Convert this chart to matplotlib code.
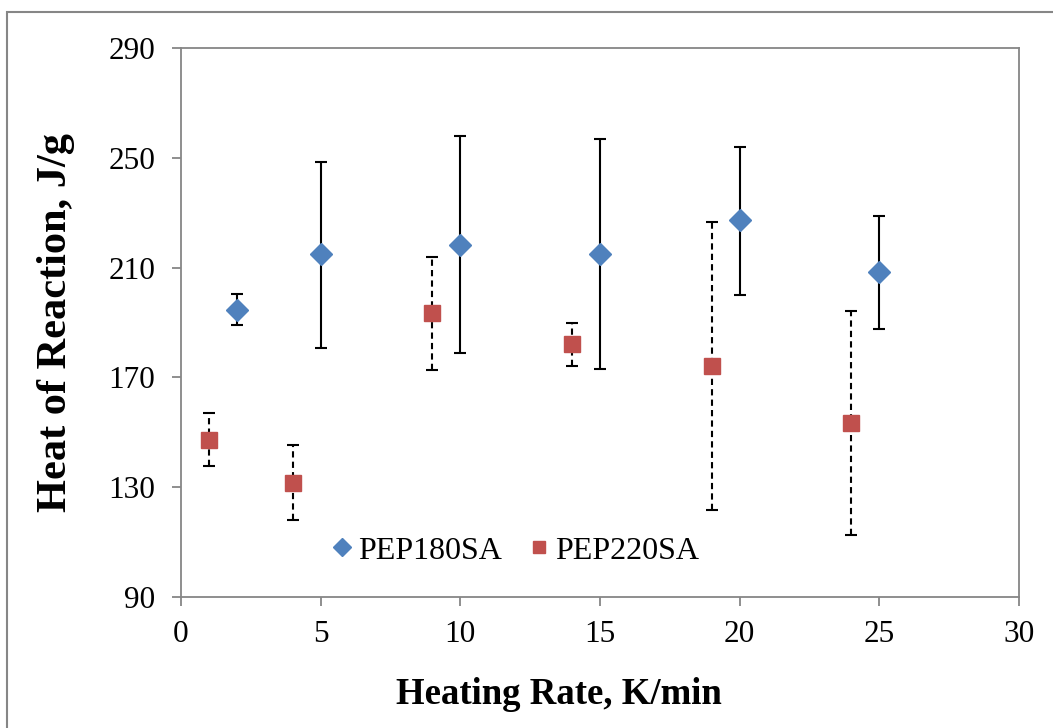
import numpy as np
import matplotlib.pyplot as plt
from matplotlib.patches import Rectangle

plt.rcParams['font.family'] = ['Liberation Serif', 'DejaVu Serif']

# PEP180SA
rate_180 = [2, 5, 10, 15, 20, 25]
heat_180 = [194.6, 215.0, 218.2, 215.0, 227.3, 208.4]
high_180 = [200.4, 248.5, 257.9, 256.8, 253.9, 228.8]
low_180 = [189.1, 180.7, 178.9, 173.1, 200.0, 187.6]

# PEP220SA
rate_220 = [1, 4, 9, 14, 19, 24]
heat_220 = [147.2, 131.5, 193.5, 182.2, 174.2, 153.4]
high_220 = [157.0, 145.4, 213.9, 189.8, 226.6, 194.2]
low_220 = [137.7, 118.1, 172.7, 174.2, 121.7, 112.6]

blue = '#4F81BD'
red = '#C0504D'
gray = '#868686'

fig = plt.figure(figsize=(10.53, 7.28), dpi=100)
ax = fig.add_axes([0.1719, 0.1799, 0.9677 - 0.1719, 0.9341 - 0.1799])

# outer chart frame
fig.patches.append(Rectangle((0.0066, -0.1), 1.2, 0.9835 + 0.1, transform=fig.transFigure,
                             fill=False, edgecolor=gray, linewidth=1.5, clip_on=False))

h180 = np.array(heat_180)
err180 = [h180 - np.array(low_180), np.array(high_180) - h180]
h220 = np.array(heat_220)
err220 = [h220 - np.array(low_220), np.array(high_220) - h220]

e1 = ax.errorbar(rate_180, heat_180, yerr=err180, fmt='D', color=blue, markersize=11,
                 ecolor='black', elinewidth=1.5, capsize=4.5, capthick=1.5, label='PEP180SA', zorder=3)
e2 = ax.errorbar(rate_220, heat_220, yerr=err220, fmt='s', color=red, markersize=11,
                 ecolor='black', elinewidth=1.5, capsize=4.5, capthick=1.5, label='PEP220SA', zorder=3)
e2[2][0].set_linestyle((0, (3, 2)))

ax.set_xlim(0, 30)
ax.set_ylim(90, 290)
ax.set_xticks(range(0, 31, 5))
ax.set_yticks(range(90, 291, 40))
for s in ax.spines.values():
    s.set_color(gray)
    s.set_linewidth(1.3)
ax.tick_params(direction='out', length=6.5, width=1.3, color=gray, labelsize=22.5)
ax.tick_params(axis='y', pad=12)
ax.tick_params(axis='x', pad=10)

ax.set_xlabel('Heating Rate, K/min', fontsize=26.5, fontweight='bold', labelpad=19)
ax.xaxis.set_label_coords(0.451, -0.145)
ax.set_ylabel('Heat of Reaction, J/g', fontsize=30.5, fontweight='bold', labelpad=24)

ax.legend(handles=[e1[0], e2[0]], labels=['PEP180SA', 'PEP220SA'], loc='center',
          bbox_to_anchor=(0.3956, 0.084), ncol=2, frameon=False, fontsize=23,
          handletextpad=0.0, columnspacing=0.68, handlelength=1.0, markerscale=0.85)

fig.savefig('out.png', dpi=100)
